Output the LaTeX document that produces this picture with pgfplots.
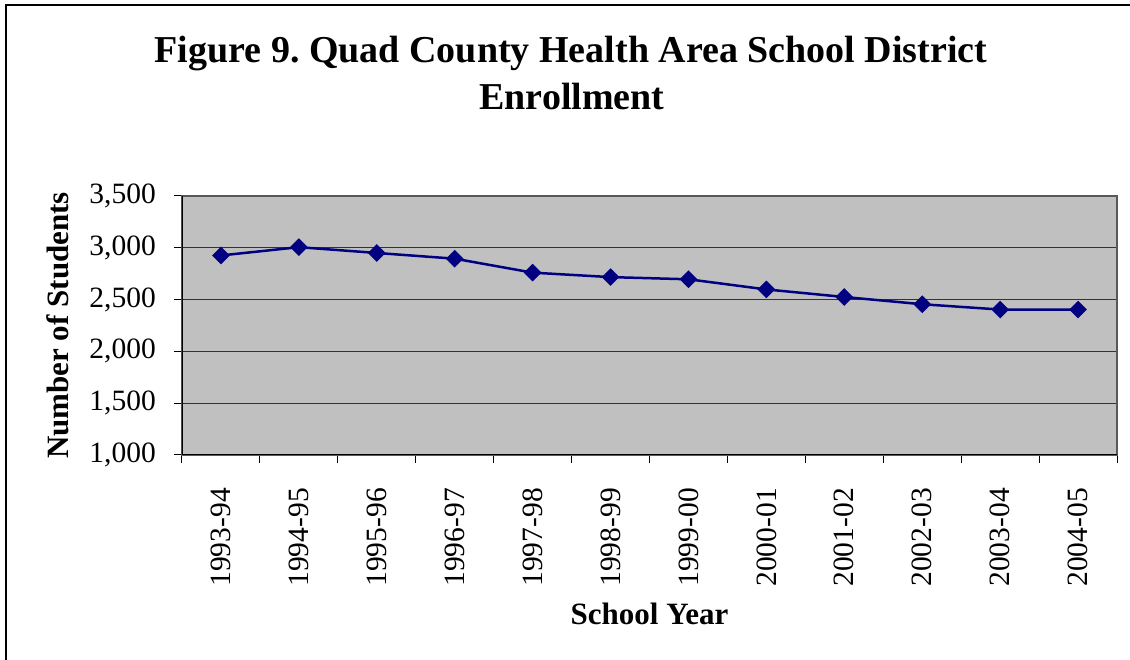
\documentclass[border=0pt]{standalone}
\usepackage{fontspec}
\setmainfont{Liberation Serif}
\usepackage{pgfplots}
\pgfplotsset{compat=1.18}
\definecolor{plotbg}{RGB}{192,192,192}
\definecolor{navyline}{RGB}{0,0,128}
\frenchspacing

\begin{document}
\begin{tikzpicture}
\useasboundingbox (0pt,0pt) rectangle (1130pt,660pt);
\fill[white] (0pt,0pt) rectangle (1130pt,660pt);
\draw[line width=2pt] (6pt,0pt) -- (6pt,655pt) -- (1130pt,655pt);
\node[font=\fontsize{38}{44}\selectfont\bfseries, anchor=base, inner sep=0pt] at (571pt,597pt) {Figure 9. Quad County Health Area School District};
\node[font=\fontsize{38}{44}\selectfont\bfseries, anchor=base, inner sep=0pt] at (572pt,550pt) {Enrollment};

\begin{axis}[
    at={(182pt,205pt)}, anchor=south west,
    scale only axis, width=935pt, height=259pt,
    xmin=-0.5, xmax=11.5, ymin=1000, ymax=3500,
    ytick={1000,1500,...,3500},
    xtick={-0.5,0.5,...,11.5},
    x tick label as interval,
    xticklabels={1993-94,1994-95,1995-96,1996-97,1997-98,1998-99,1999-00,2000-01,2001-02,2002-03,2003-04,2004-05},
    tick align=outside, major tick length=8pt,
    xtick pos=bottom, ytick pos=left,
    tick style={black, line width=1pt},
    ymajorgrids, major grid style={black!80, line width=1pt},
    axis background/.style={fill=plotbg},
    axis line style={gray!70!black, line width=1.5pt},
    /pgf/number format/1000 sep={,},
    /pgf/number format/assume math mode=true,
    tick label style={font=\fontsize{29.5}{34}\selectfont},
    xticklabel style={rotate=90, anchor=east, inner sep=0pt},
    yticklabel style={anchor=east, inner sep=0pt},
    xticklabel shift=25pt,
    yticklabel shift=18pt,
    xlabel={School Year}, ylabel={Number of Students},
    label style={font=\fontsize{31}{36}\selectfont\bfseries},
    xlabel style={at={(axis description cs:0.5,-0.614)}, anchor=center},
    ylabel style={at={(axis description cs:-0.1326,0.5)}, anchor=center},
]
\addplot[navyline, line width=2.5pt, mark=square*, mark size=5pt, mark options={rotate=45, solid}]
coordinates {
    (0,2926)(1,3006)(2,2950)(3,2895)(4,2760)(5,2717)
    (6,2696)(7,2598)(8,2525)(9,2455)(10,2404)(11,2404)
};
\draw[black, line width=1.5pt] (rel axis cs:0,1) -- (rel axis cs:0,0) -- (rel axis cs:1,0);
\end{axis}
\end{tikzpicture}
\end{document}
